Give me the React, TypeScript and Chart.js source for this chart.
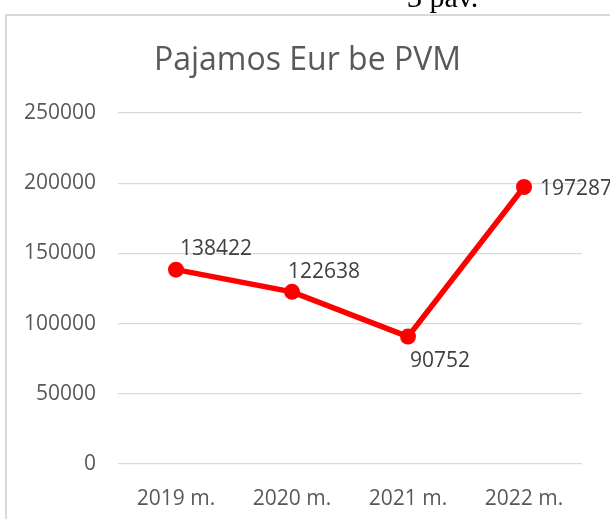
import React, { useEffect, useRef } from "react";
import { Chart, registerables } from "chart.js";

Chart.register(...registerables);

const categories = ["2019 m.", "2020 m.", "2021 m.", "2022 m."];
const revenue = [138422, 122638, 90752, 197287];
const yTicks = [0, 50000, 100000, 150000, 200000, 250000];
const titleText = "Pajamos Eur be PVM";
const captionText = "3 pav.";

// label placement per point: [dx, dy] relative to point, left-aligned text, middle baseline
const labelOffsets: [number, number][] = [
  [4, -21],
  [-4, -20],
  [2, 24],
  [16, 2],
];

const FONT = '"Open Sans", "Noto Sans", sans-serif';

export default function App() {
  const ref = useRef<HTMLCanvasElement | null>(null);

  useEffect(() => {
    if (!ref.current) return;
    const decor = {
      id: "decor",
      beforeDraw(chart: any) {
        const ctx = chart.ctx;
        ctx.save();
        ctx.strokeStyle = "#d9d9d9";
        ctx.lineWidth = 2;
        ctx.beginPath();
        ctx.moveTo(6, 530);
        ctx.lineTo(6, 15);
        ctx.lineTo(620, 15);
        ctx.stroke();
        ctx.fillStyle = "#000000";
        ctx.font = '30px "Liberation Serif", serif';
        ctx.textAlign = "left";
        ctx.textBaseline = "alphabetic";
        ctx.fillText(captionText, 407, 7);
        ctx.fillStyle = "#595959";
        ctx.font = "32px " + FONT;
        ctx.textAlign = "center";
        ctx.fillText(titleText, 307.5, 70);
        ctx.restore();
      },
      afterDatasetsDraw(chart: any) {
        const ctx = chart.ctx;
        const meta = chart.getDatasetMeta(0);
        ctx.save();
        ctx.fillStyle = "#404040";
        ctx.font = "21px " + FONT;
        ctx.textAlign = "left";
        ctx.textBaseline = "middle";
        meta.data.forEach((pt: any, i: number) => {
          const [dx, dy] = labelOffsets[i];
          ctx.fillText(String(revenue[i]), pt.x + dx, pt.y + dy);
        });
        ctx.restore();
      },
    };

    const chart = new Chart(ref.current, {
      type: "line",
      data: {
        labels: categories,
        datasets: [
          {
            data: revenue,
            borderColor: "#ff0000",
            backgroundColor: "#ff0000",
            borderWidth: 5.5,
            pointRadius: 8,
            pointHoverRadius: 8,
            pointBackgroundColor: "#ff0000",
            pointBorderColor: "#ff0000",
            pointBorderWidth: 0,
            tension: 0,
            fill: false,
          },
        ],
      },
      options: {
        responsive: false,
        animation: false,
        layout: { padding: { top: 113, right: 28, left: 0, bottom: 0 } },
        plugins: {
          legend: { display: false },
          title: { display: false },
          tooltip: { enabled: false },
        },
        scales: {
          x: {
            offset: true,
            grid: { display: false, drawTicks: false },
            border: { display: false },
            ticks: {
              color: "#595959",
              font: { family: FONT, size: 21 },
              padding: 22,
              maxRotation: 0,
            },
            afterFit(s: any) {
              s.height = 55;
            },
          },
          y: {
            min: 0,
            max: 250000,
            afterBuildTicks(s: any) {
              s.ticks = yTicks.map((v) => ({ value: v }));
            },
            grid: { color: "#d9d9d9", lineWidth: 1.3, drawTicks: false },
            border: { display: false },
            ticks: {
              color: "#595959",
              font: { family: FONT, size: 21 },
              padding: 22,
              callback: (v: any) => String(v),
            },
            afterFit(s: any) {
              s.width = 118;
            },
          },
        },
      },
      plugins: [decor],
    } as any);
    return () => chart.destroy();
  }, []);

  return (
    <div style={{ position: "absolute", left: 0, top: 0, width: 610, height: 519, overflow: "hidden", background: "#fff" }}>
      <canvas ref={ref} width={610} height={519} style={{ display: "block" }} />
    </div>
  );
}
